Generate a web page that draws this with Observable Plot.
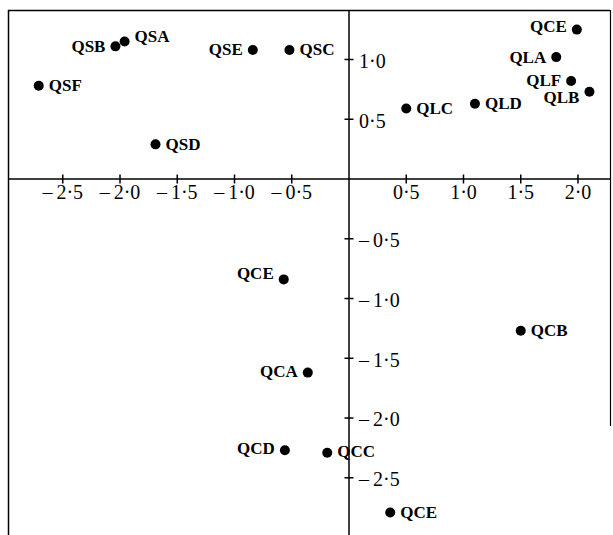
<!DOCTYPE html>
<html><head><meta charset="utf-8">
<script src="https://cdn.jsdelivr.net/npm/d3@7"></script>
<script src="https://cdn.jsdelivr.net/npm/@observablehq/plot@0.6"></script>
<style>body{margin:0;background:#fff} svg{display:block}</style>
</head><body><div id="chart"></div>
<script>
// Data
const names   = ["QSF","QSB","QSA","QSE","QSC","QSD","QCE","QLA","QLF","QLB","QLC","QLD","QCE","QCB","QCA","QCD","QCC","QCE"];
const xValues = [-2.71,-2.04,-1.96,-0.84,-0.52,-1.69, 1.99, 1.81, 1.94, 2.10, 0.50, 1.10,-0.57, 1.50,-0.36,-0.56,-0.19, 0.36];
const yValues = [ 0.78, 1.11, 1.15, 1.08, 1.08, 0.29, 1.25, 1.02, 0.82, 0.73, 0.59, 0.63,-0.84,-1.27,-1.62,-2.27,-2.29,-2.79];
const xTicks = [-2.5,-2,-1.5,-1,-0.5,0.5,1,1.5,2];
const yTicks = [1,0.5,-0.5,-1,-1.5,-2,-2.5];

// Label placement (style only): side and vertical nudge per point
const labelSide = ["R","L","R","L","R","R","L","L","L","L","R","R","L","R","L","L","R","R"];
const labelDy   = [ 0,  0, -5,  0,  0,  0, -3,  0,  0,  6,  0,  0, -6,  0, -1, -2, -1,  0];

const points = names.map((n,i)=>({name:n, x:xValues[i], y:yValues[i], side:labelSide[i], dy:labelDy[i]}));

const xDomain = [-2.974, 2.284];
const yDomain = [-2.983, 1.410];
const fmt = d => (d<0?"\u2013\u2009":"") + Math.abs(d).toFixed(1).replace(".", "\u00B7");

const vTick = {draw(ctx){ctx.moveTo(0,-4.5);ctx.lineTo(0,4.5);}};
const hTick = {draw(ctx){ctx.moveTo(-4.5,0);ctx.lineTo(4.5,0);}};
const font = "Liberation Serif, Times New Roman, serif";

const labelMarks = [];
for (const side of ["L","R"]) {
  for (const dy of [...new Set(labelDy)]) {
    const sub = points.filter(p=>p.side===side && p.dy===dy);
    if (!sub.length) continue;
    labelMarks.push(Plot.text(sub, {x:"x", y:"y", text:"name", dx: side==="L" ? -10 : 10, dy,
      textAnchor: side==="L" ? "end" : "start", fontSize: 17, fontWeight: "bold", fill:"black"}));
  }
}

const chart = Plot.plot({
  width: 613, height: 535,
  marginLeft: 8, marginTop: 10, marginRight: 3, marginBottom: 0,
  style: {fontFamily: font, background: "white", overflow: "visible"},
  x: {domain: xDomain, axis: null},
  y: {domain: yDomain, axis: null},
  marks: [
    Plot.ruleY([yDomain[1]], {stroke:"black", strokeWidth:1.5}),
    Plot.ruleX([xDomain[0]], {stroke:"black", strokeWidth:1.5}),
    Plot.ruleX([xDomain[1]], {y1: yDomain[1], y2: -2.07, stroke:"black", strokeWidth:1.2}),
    Plot.ruleX([0], {stroke:"black", strokeWidth:1.5}),
    Plot.ruleY([0], {stroke:"black", strokeWidth:1.5}),
    Plot.dot(xTicks, {x: d=>d, y: ()=>0, symbol: vTick, fill:"none", stroke:"black", strokeWidth:1.5}),
    Plot.dot(yTicks, {x: ()=>0, y: d=>d, symbol: hTick, fill:"none", stroke:"black", strokeWidth:1.5}),
    Plot.text(xTicks, {x: d=>d, y: ()=>0, text: fmt, dy: 14, fontSize: 20, fill:"black"}),
    Plot.text(yTicks, {x: ()=>0, y: d=>d, text: fmt, dx: 10, dy: 2, textAnchor:"start", fontSize: 20, fill:"black"}),
    Plot.dot(points, {x:"x", y:"y", r:5, fill:"black", stroke:"none"}),
    ...labelMarks
  ]
});
document.getElementById("chart").append(chart);
</script>
</body></html>
